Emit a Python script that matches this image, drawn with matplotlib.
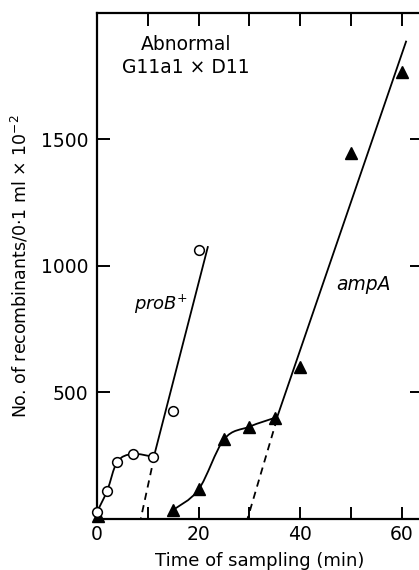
import numpy as np
import matplotlib
matplotlib.use('Agg')
import matplotlib.pyplot as plt
from matplotlib.path import Path
from matplotlib.patches import PathPatch

plt.rcParams['font.family'] = ['DejaVu Sans']

# ── Dados ─────────────────────────────────────────────────────────────────────
prob_t = [0, 2, 4, 7, 11, 15, 20]
prob_v = [28, 112, 226, 257, 246, 428, 1063]
prob_line_t = [11.3, 21.8]          # reta sólida proB+
prob_line_v = [255, 1075]
prob_dash_t = [11.3, 8.6]           # extrapolação tracejada
prob_dash_v = [250, 0]

amp_t = [15, 20, 25, 30, 35, 40, 50, 60]
amp_v = [36, 117, 315, 365, 400, 600, 1445, 1768]
amp_zero_t = [0.1]
amp_zero_v = [10]
amp_line_t = [35.4, 60.8]           # reta sólida ampA
amp_line_v = [400, 1887]
amp_dash_t = [35.4, 29.6]
amp_dash_v = [395, 0]

x_ticks = [0, 10, 20, 30, 40, 50, 60]
x_labels = ['0', '', '20', '', '40', '', '60']
y_ticks = [500, 1000, 1500]


def smooth_path(xs, ys):
    """Curva Catmull-Rom convertida em Bezier (desenhada pelo matplotlib)."""
    pts = np.column_stack([xs, ys]).astype(float)
    n = len(pts)
    verts = [pts[0]]
    codes = [Path.MOVETO]
    for i in range(n - 1):
        p0 = pts[i - 1] if i > 0 else pts[i]
        p1 = pts[i]
        p2 = pts[i + 1]
        p3 = pts[i + 2] if i + 2 < n else pts[i + 1]
        c1 = p1 + (p2 - p0) / 6.0
        c2 = p2 - (p3 - p1) / 6.0
        verts += [c1, c2, p2]
        codes += [Path.CURVE4] * 3
    return Path(verts, codes)


fig = plt.figure(figsize=(4.19, 5.70), dpi=100)
ax = fig.add_axes([0.2315, 0.0895, 0.7764, 0.8877])

lw = 1.3
# curvas suaves
ax.add_patch(PathPatch(smooth_path(prob_t[:5], prob_v[:5]), fill=False,
                       lw=lw, color='black', transform=ax.transData))
ax.add_patch(PathPatch(smooth_path(amp_t[:5], amp_v[:5]), fill=False,
                       lw=lw, color='black', transform=ax.transData))

# retas e extrapolações
ax.plot(prob_line_t, prob_line_v, color='black', lw=lw)
ax.plot(prob_dash_t, prob_dash_v, color='black', lw=lw, ls=(0, (4, 3)))
ax.plot(amp_line_t, amp_line_v, color='black', lw=lw)
ax.plot(amp_dash_t, amp_dash_v, color='black', lw=lw, ls=(0, (4, 3)))

# pontos
ax.plot(prob_t, prob_v, ls='none', marker='o', ms=7, mfc='white',
        mec='black', mew=1.1, zorder=5, clip_on=False)
ax.plot(amp_t, amp_v, ls='none', marker='^', ms=8, color='black',
        zorder=5, clip_on=False)
ax.plot(amp_zero_t, amp_zero_v, ls='none', marker='^', ms=8, color='black',
        zorder=4, clip_on=False)

ax.set_xlim(0, 64)
ax.set_ylim(0, 2000)
ax.set_xticks(x_ticks)
ax.set_xticklabels(x_labels)
ax.set_yticks(y_ticks)
ax.tick_params(direction='in', length=9, width=1.4, labelsize=13.5,
               top=True, right=True, pad=4)
ax.tick_params(axis='y', pad=6)
for s in ax.spines.values():
    s.set_linewidth(1.6)

ax.set_xlabel('Time of sampling (min)', fontsize=13, labelpad=6)
ax.set_ylabel('No. of recombinants/0·1 ml × 10$^{-2}$', fontsize=12.5,
              labelpad=8)

ax.text(17.5, 1830, 'Abnormal\nG11a1 × D11', ha='center', va='center',
        fontsize=13.5, linespacing=1.3)
ax.text(12.5, 850, 'proB$^{+}$', ha='center', va='center', fontsize=13,
        style='italic')
ax.text(52.5, 925, 'ampA', ha='center', va='center', fontsize=13.5,
        style='italic')

fig.savefig('out.png', dpi=100)
